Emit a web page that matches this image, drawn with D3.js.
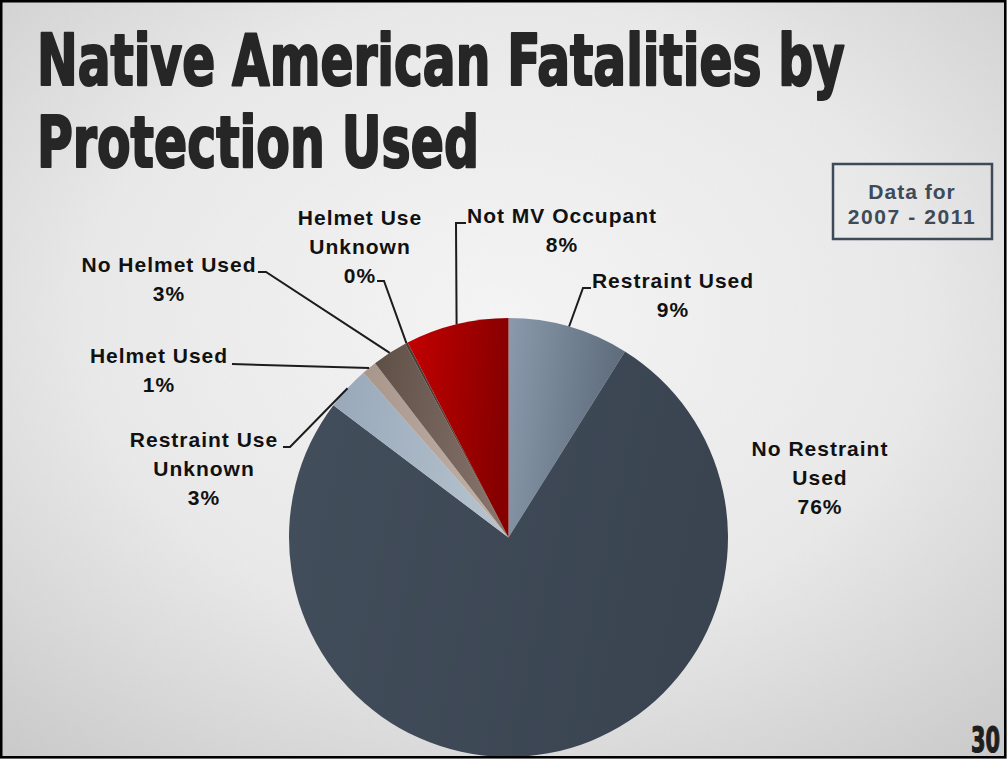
<!DOCTYPE html>
<html>
<head>
<meta charset="utf-8">
<script src="https://cdn.jsdelivr.net/npm/d3@7"></script>
<style>
  html, body { margin: 0; padding: 0; background: #fff; }
  svg { display: block; }
</style>
</head>
<body>
<svg id="chart" width="1007" height="759"></svg>
<script>
// ---------- DATA ----------
const categories = ["Restraint Used", "No Restraint Used", "Restraint Use Unknown", "Helmet Used", "No Helmet Used", "Helmet Use Unknown", "Not MV Occupant"];
const values = [8.9, 76.4, 3.2, 1.1, 2.6, 0.2, 7.6];
const titleLines = ["Native American Fatalities by", "Protection Used"];
const noteLines = ["Data for", "2007 - 2011"];
const pageNumber = "30";

// ---------- STYLE / LAYOUT ----------
const W = 1007, H = 759;
const colors = [
  ["#8a9aac", "#5d6b7b"],
  ["#434e5c", "#3a4451"],
  ["#98a8b9", "#b4c1cd"],
  ["#a8968b", "#c0b0a6"],
  ["#5e4f45", "#85726a"],
  ["#4a3d35", "#5a4a40"],
  ["#c40000", "#870000"]
];
const labelLayout = [
  { x: 673, y: 288, wrap: [2], start: [591, 288], elbow: [583, 288] },
  { x: 820, y: 456, wrap: [2, 1], start: null, elbow: null },
  { x: 204, y: 447, wrap: [2, 1], start: [283, 447], elbow: [290, 447] },
  { x: 159, y: 363, wrap: [2], start: [232, 364], elbow: null },
  { x: 169, y: 272, wrap: [3], start: [258, 272], elbow: [266, 272] },
  { x: 360, y: 225, wrap: [2, 1], start: [377, 281], elbow: [384, 281] },
  { x: 562, y: 223, wrap: [3], start: [466, 223], elbow: [456, 223] }
];
const lineH = 29;
const cx = 508.5, cy = 537.5, R = 219.5;

const svg = d3.select("#chart");
const defs = svg.append("defs");

const bg = defs.append("radialGradient").attr("id", "bg")
  .attr("cx", "50%").attr("cy", "42%").attr("r", "75%");
bg.append("stop").attr("offset", "0%").attr("stop-color", "#f6f6f6");
bg.append("stop").attr("offset", "55%").attr("stop-color", "#eaeaea");
bg.append("stop").attr("offset", "100%").attr("stop-color", "#cbcbcb");

const f = defs.append("filter").attr("id", "noise").attr("x", 0).attr("y", 0).attr("width", "100%").attr("height", "100%");
f.append("feTurbulence").attr("type", "fractalNoise").attr("baseFrequency", 0.9).attr("numOctaves", 2).attr("seed", 3).attr("result", "t");
f.append("feColorMatrix").attr("type", "matrix")
  .attr("values", "0 0 0 0 0.5  0 0 0 0 0.5  0 0 0 0 0.5  0 0 0 0.12 0");

svg.append("rect").attr("width", W).attr("height", H).attr("fill", "url(#bg)");
svg.append("rect").attr("width", W).attr("height", H).attr("filter", "url(#noise)").attr("opacity", 0.6);

colors.forEach((c, i) => {
  const g = defs.append("linearGradient").attr("id", "g" + i)
    .attr("x1", "0%").attr("y1", "0%").attr("x2", "100%").attr("y2", "20%");
  g.append("stop").attr("offset", "0%").attr("stop-color", c[0]);
  g.append("stop").attr("offset", "100%").attr("stop-color", c[1]);
});

// ---------- TITLE ----------
const titleFont = "'Liberation Sans Narrow', 'Arial Narrow', 'DejaVu Sans Condensed', sans-serif";
const titleSpec = [{ y: 85, w: 808 }, { y: 167, w: 442 }];
function fitText(sel, targetW, x, y) {
  const w = sel.node().getComputedTextLength();
  sel.attr("transform", `translate(${x},${y}) scale(${targetW / w},1)`);
}
titleLines.forEach((t, i) => {
  const s = svg.append("text")
    .attr("x", 0).attr("y", 0)
    .attr("font-family", titleFont).attr("font-weight", "bold")
    .attr("font-size", 72)
    .attr("fill", "#262626").attr("stroke", "#262626").attr("stroke-width", 2.2)
    .attr("stroke-linejoin", "round")
    .text(t);
  fitText(s, titleSpec[i].w, 37, titleSpec[i].y);
});

// ---------- NOTE BOX ----------
svg.append("rect").attr("x", 833).attr("y", 164).attr("width", 159).attr("height", 75)
  .attr("fill", "none").attr("stroke", "#3d4a58").attr("stroke-width", 2.5);
noteLines.forEach((t, i) => {
  svg.append("text").attr("x", 912).attr("y", 199 + i * 25)
    .attr("text-anchor", "middle")
    .attr("font-family", "'Liberation Sans', Arial, sans-serif").attr("font-weight", "bold")
    .attr("font-size", 21).attr("letter-spacing", i === 1 ? 1.6 : 1)
    .attr("fill", "#3d4a58").text(t);
});

// ---------- PIE ----------
const pie = d3.pie().sort(null).value(d => d)(values);
const arc = d3.arc().innerRadius(0).outerRadius(R);
const g = svg.append("g").attr("transform", `translate(${cx},${cy})`);
g.selectAll("path").data(pie).join("path")
  .attr("d", arc)
  .attr("fill", (d, i) => `url(#g${i})`);

const total = d3.sum(values);

pie.forEach((d, i) => {
  const L = labelLayout[i];
  if (!L.start) return;
  const mid = (d.startAngle + d.endAngle) / 2;
  const end = [cx + R * Math.sin(mid), cy - R * Math.cos(mid)];
  const pts = [L.start];
  if (L.elbow) pts.push(L.elbow);
  pts.push(end);
  svg.append("path")
    .attr("d", d3.line()(pts))
    .attr("fill", "none").attr("stroke", "#1c1c1c").attr("stroke-width", 2);
});

categories.forEach((name, i) => {
  const L = labelLayout[i];
  const words = name.split(" ");
  const lines = [];
  let k = 0;
  L.wrap.forEach(n => { lines.push(words.slice(k, k + n).join(" ")); k += n; });
  if (k < words.length) lines.push(words.slice(k).join(" "));
  lines.push(Math.round(values[i] / total * 100) + "%");
  const t = svg.append("text")
    .attr("text-anchor", "middle")
    .attr("font-family", "'Liberation Sans', Arial, sans-serif")
    .attr("font-weight", "bold").attr("font-size", 21)
    .attr("letter-spacing", 1).attr("fill", "#111");
  lines.forEach((ln, j) => {
    t.append("tspan").attr("x", L.x).attr("y", L.y + j * lineH).text(ln);
  });
});

// ---------- PAGE NUMBER ----------
const pn = svg.append("text").attr("x", 0).attr("y", 0)
  .attr("font-family", titleFont).attr("font-weight", "bold").attr("font-size", 35)
  .attr("fill", "#1e1e1e").attr("stroke", "#1e1e1e").attr("stroke-width", 1.2)
  .text(pageNumber);
fitText(pn, 29, 971, 752);

svg.append("rect").attr("x", 1.25).attr("y", 1.25).attr("width", 1004).attr("height", 756)
  .attr("fill", "none").attr("stroke", "#000").attr("stroke-width", 2.5);
</script>
</body>
</html>
